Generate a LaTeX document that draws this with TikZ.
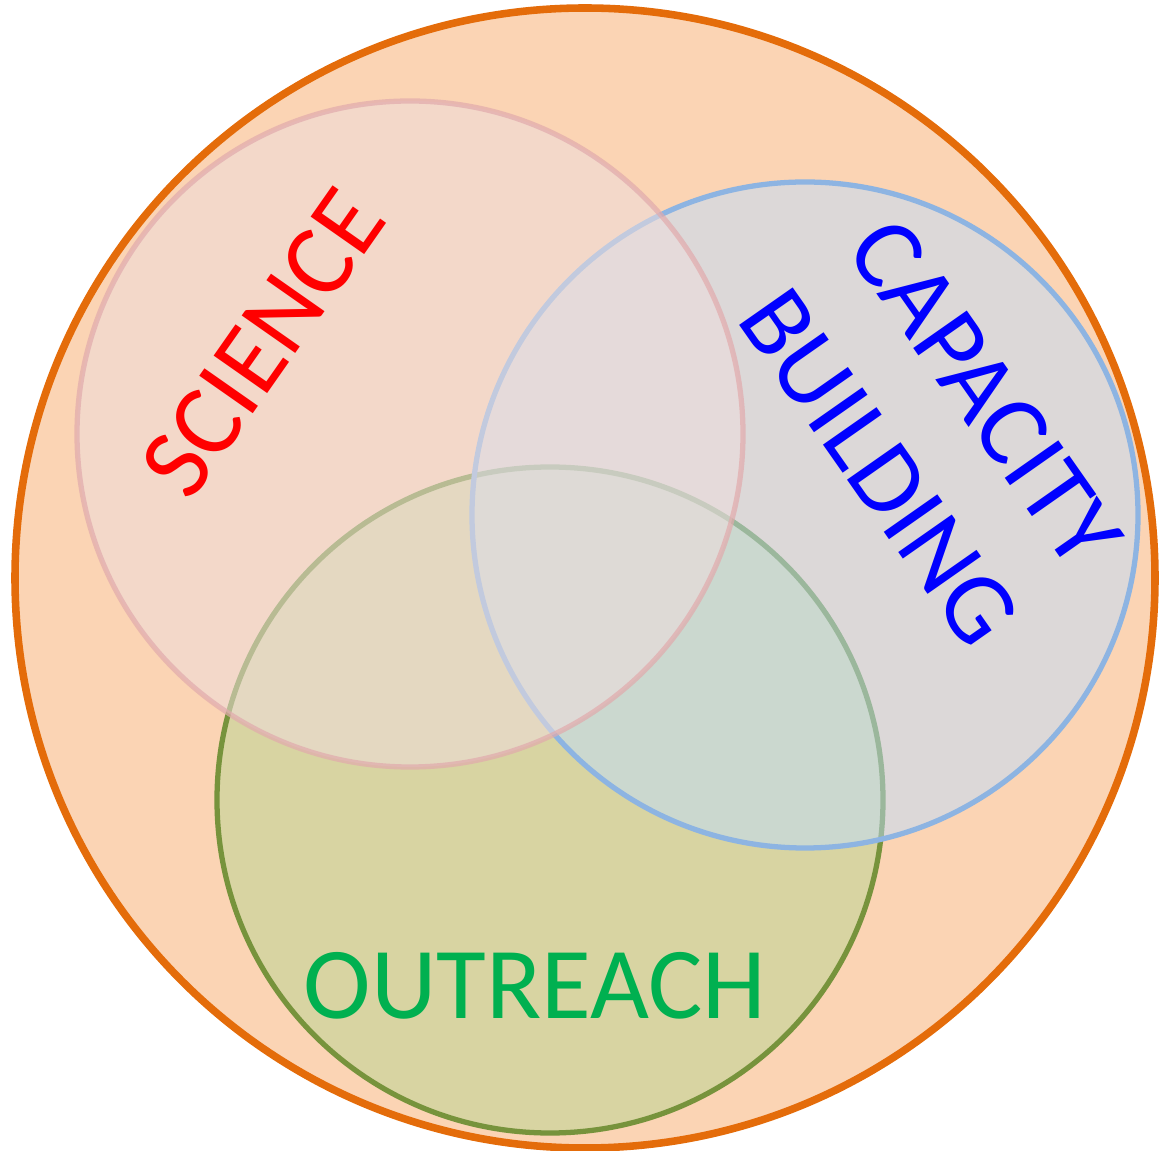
\documentclass[tikz,border=0pt]{standalone}
\usepackage{fontspec}
\setmainfont{Carlito}
\usepackage{xcolor}
\definecolor{outerfill}{RGB}{251,212,180}
\definecolor{outerline}{RGB}{228,108,10}
\definecolor{scifill}{RGB}{238,221,220}
\definecolor{sciline}{RGB}{225,170,172}
\definecolor{capfill}{RGB}{191,220,252}
\definecolor{capline}{RGB}{141,180,226}
\definecolor{outfill}{RGB}{193,212,150}
\definecolor{outline}{RGB}{119,147,60}
\definecolor{outtext}{RGB}{0,176,80}
\tikzset{
  ring/.style={line width=3pt},
  biglabel/.style={font=\fontsize{58}{74}\selectfont, inner sep=0pt}
}

\begin{document}
\begin{tikzpicture}[x=0.02cm,y=0.02cm]
\useasboundingbox (0,0) rectangle (1163,1150);
\draw[line width=4.3pt,draw=outerline,fill=outerfill] (585,572) circle (570);

\draw[ring,draw=outline,fill=outfill,fill opacity=.6] (550,350) circle (333);
\draw[ring,draw=capline,fill=capfill,fill opacity=.5] (805,635) circle (333);
\draw[ring,draw=sciline,fill=scifill,fill opacity=.55,draw opacity=.7] (410,716) circle (333);

\node[biglabel,text=red,rotate=55] (science) at (263,807) {SCIENCE};
\node[biglabel,text=blue,rotate=-55,align=center] (capacity) at (932,720) {CAPACITY\\BUILDING};
\node[biglabel,text=outtext,anchor=base] (outreach) at (535,132) {OUTREACH};
\end{tikzpicture}
\end{document}
